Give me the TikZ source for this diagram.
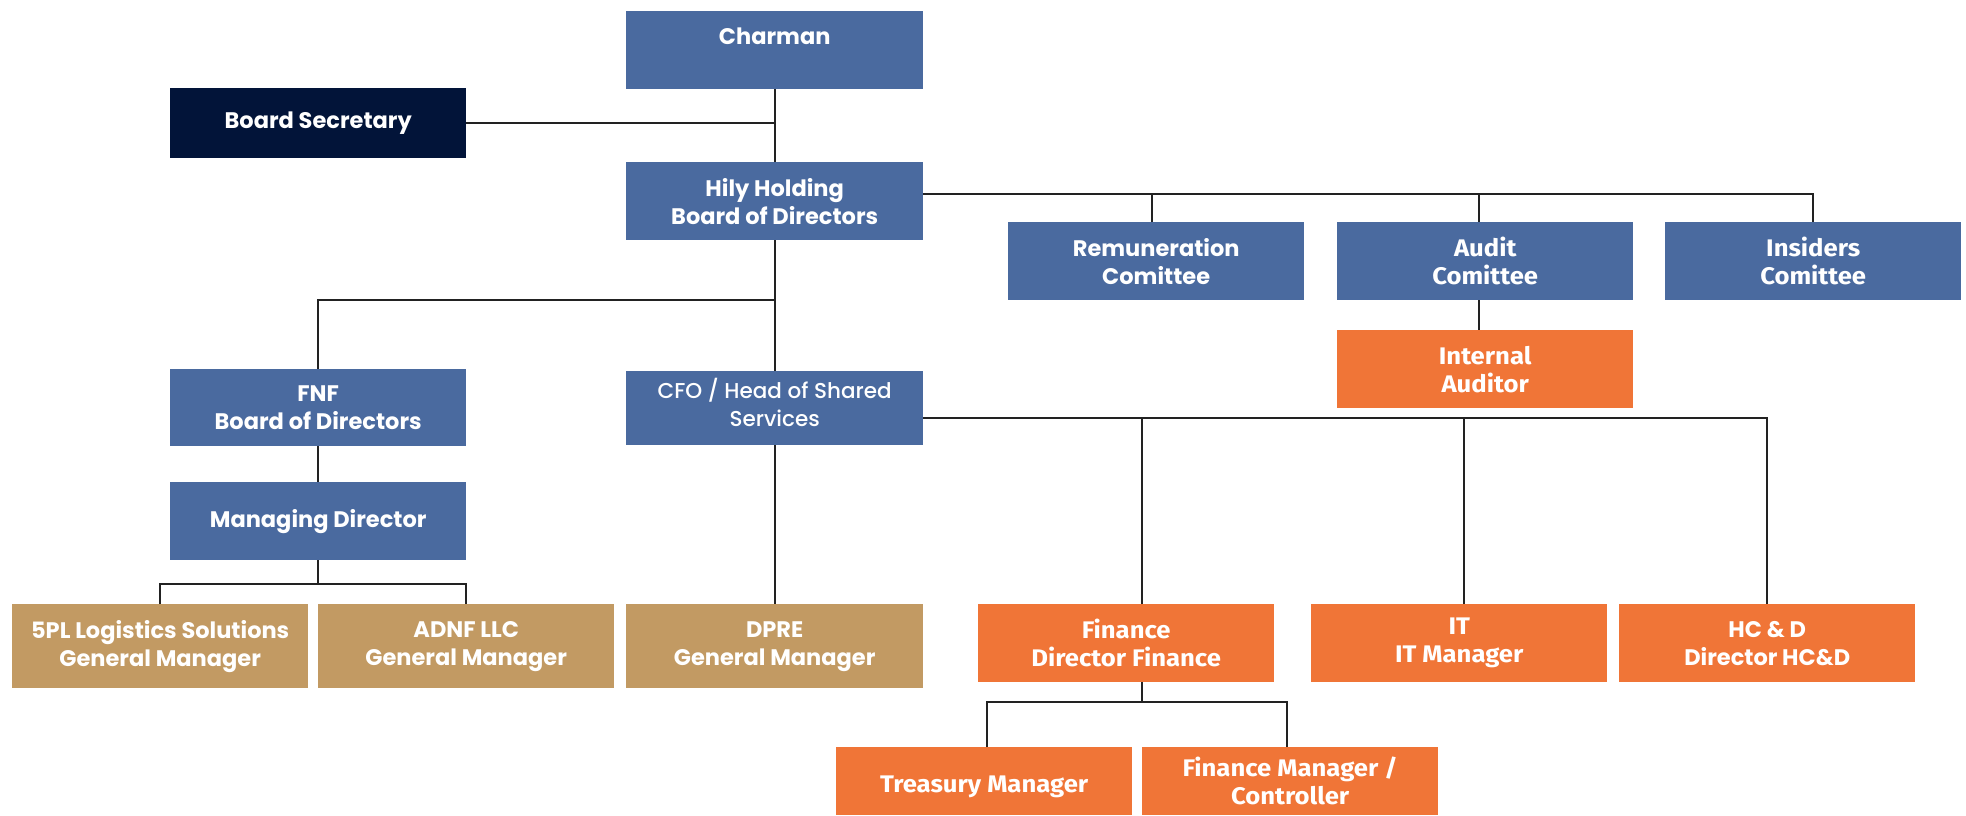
\documentclass[tikz,border=0pt]{standalone}
\usepackage{fontspec}
\setmainfont{Poppins}[BoldFont=* Bold]
\newfontfamily\condf{Fira Sans}[BoldFont=* Bold, FakeStretch=1.07]
\newfontfamily\popmed{Poppins}[UprightFont=* Medium]
\definecolor{cblue}{HTML}{4A6A9F}
\definecolor{corange}{HTML}{F07537}
\definecolor{ctan}{HTML}{C29A63}
\definecolor{cnavy}{HTML}{021439}
\definecolor{cline}{HTML}{222222}
\tikzset{
  box/.style={anchor=north west, inner sep=0pt, align=center, text=white,
    font=\fontsize{22.5}{28}\selectfont\bfseries},
  bbox/.style={box, fill=cblue},
  condtext/.style={font=\fontsize{24}{28}\selectfont\condf\bfseries},
  obox/.style={box, fill=corange, condtext},
  tbox/.style={box, fill=ctan},
  nbox/.style={box, fill=cnavy},
  conn/.style={draw=cline, line width=2.2pt}
}
\begin{document}
\begin{tikzpicture}[x=1pt,y=-1pt]
\useasboundingbox (0,0) rectangle (1966,815);
\node[bbox, minimum width=297pt, minimum height=78pt] (charman) at (626,11) {Charman\\\mbox{}};
\node[nbox, minimum width=296pt, minimum height=70pt] (secr) at (170,88) {Board Secretary};
\node[bbox, minimum width=297pt, minimum height=78pt] (hily) at (626,162) {Hily Holding\\Board of Directors};
\node[bbox, minimum width=296pt, minimum height=78pt] (remun) at (1008,222) {Remuneration\\Comittee};
\node[bbox, minimum width=296pt, minimum height=78pt, condtext] (audit) at (1337,222) {Audit\\Comittee};
\node[bbox, minimum width=296pt, minimum height=78pt, condtext] (insid) at (1665,222) {Insiders\\Comittee};
\node[obox, minimum width=296pt, minimum height=78pt] (intaud) at (1337,330) {Internal\\Auditor};
\node[bbox, minimum width=296pt, minimum height=77pt] (fnf) at (170,369) {FNF\\Board of Directors};
\node[bbox, minimum width=297pt, minimum height=74pt, font=\fontsize{21.5}{28}\selectfont\popmed] (cfo) at (626,371) {CFO / Head of Shared\\Services\\[-16pt]\mbox{}};
\node[bbox, minimum width=296pt, minimum height=78pt] (md) at (170,482) {Managing Director};
\node[tbox, minimum width=296pt, minimum height=84pt] (fivepl) at (12,604) {5PL Logistics Solutions\\General Manager};
\node[tbox, minimum width=296pt, minimum height=84pt] (adnf) at (318,604) {ADNF LLC\\General Manager};
\node[tbox, minimum width=297pt, minimum height=84pt] (dpre) at (626,604) {DPRE\\General Manager};
\node[obox, minimum width=296pt, minimum height=78pt] (fin) at (978,604) {Finance\\Director Finance};
\node[obox, minimum width=296pt, minimum height=78pt] (it) at (1311,604) {IT\\IT Manager};
\node[obox, minimum width=296pt, minimum height=78pt, font=\fontsize{22.5}{28}\selectfont\bfseries] (hcd) at (1619,604) {HC \& D\\Director HC\&D};
\node[obox, minimum width=296pt, minimum height=68pt] (treas) at (836,747) {\raisebox{-11pt}[0pt][0pt]{Treasury Manager}};
\node[obox, minimum width=296pt, minimum height=68pt] (finmgr) at (1142,747) {Finance Manager /\\Controller};
% connectors
\draw[conn] (charman.south) -- (hily.north);
\draw[conn] (secr.east) -- (secr.east -| charman.south);
\draw[conn] (hily.east |- 0,194) -| (insid.north);
\draw[conn] ([xshift=-4pt]remun.north) -- ([xshift=-4pt]remun.north |- 0,194);
\draw[conn] ([xshift=-6pt]audit.north) -- ([xshift=-6pt]audit.north |- 0,194);
\draw[conn] (audit.south -| 1479,0) -- (intaud.north -| 1479,0);
\draw[conn] (hily.south) -- (cfo.north);
\draw[conn] (hily.south |- 0,300) -| (fnf.north);
\draw[conn] (fnf.south) -- (md.north);
\draw[conn] (md.south) -- (md.south |- 0,584);
\draw[conn] (fivepl.north) |- (adnf.north |- 0,584) -- (adnf.north);
\draw[conn] (cfo.south) -- (dpre.north);
\draw[conn] (cfo.east |- 0,418) -| (hcd.north);
\draw[conn] ([xshift=16pt]fin.north) -- ([xshift=16pt]fin.north |- 0,418);
\draw[conn] ([xshift=5pt]it.north) -- ([xshift=5pt]it.north |- 0,418);
\draw[conn] ([xshift=16pt]fin.south) -- ([xshift=16pt]fin.south |- 0,702);
\draw[conn] ([xshift=3pt]treas.north) |- ([xshift=-3pt]finmgr.north |- 0,702) -- ([xshift=-3pt]finmgr.north);
\end{tikzpicture}
\end{document}
